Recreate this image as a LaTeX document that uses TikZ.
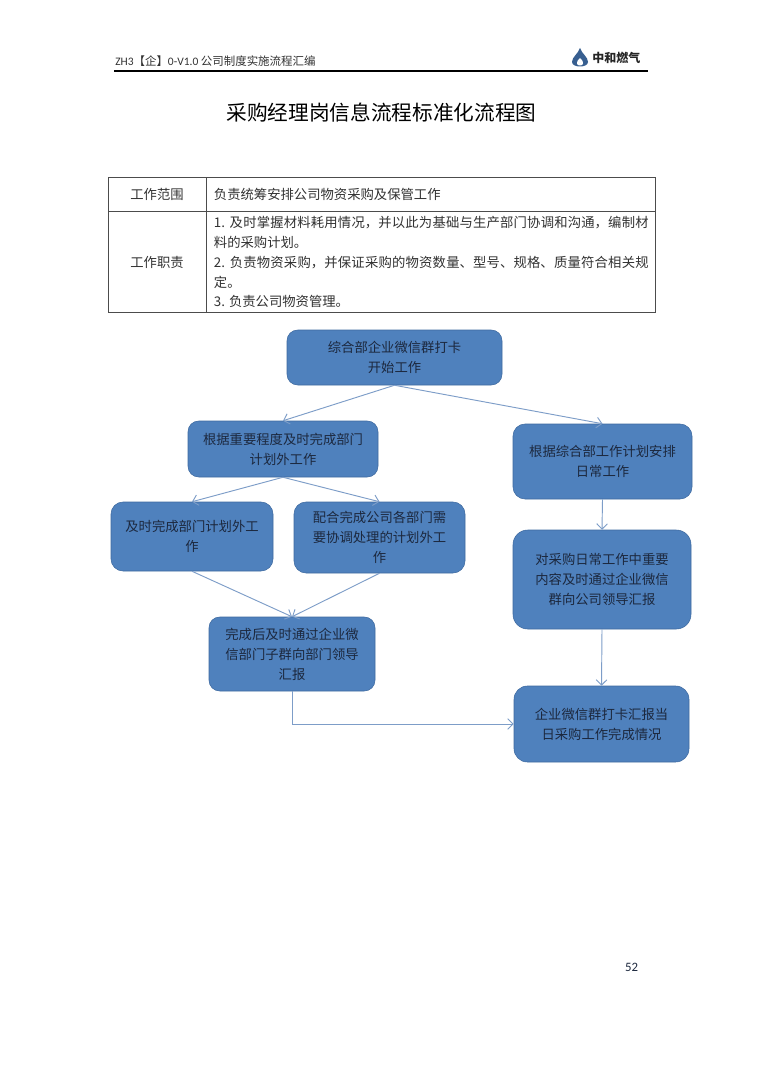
\documentclass[tikz,border=0pt]{standalone}
\usepackage{fontspec}
\usepackage{xcolor}
\usetikzlibrary{arrows.meta, positioning}
\setmainfont{Noto Sans CJK SC}
\newfontfamily\latinfont{Carlito}
\XeTeXlinebreaklocale "zh"
\XeTeXlinebreakskip=0pt plus 1pt
\definecolor{cBox}{RGB}{79,129,189}
\definecolor{cBoxLine}{RGB}{62,106,160}
\definecolor{cLink}{RGB}{125,157,200}
\definecolor{cBoxText}{RGB}{28,40,62}
\definecolor{cTable}{RGB}{50,50,50}
\tikzset{
	flowbox/.style={rectangle, rounded corners=8pt, draw=cBoxLine, fill=cBox, text=cBoxText, align=center, inner sep=0pt, font=\fontsize{10}{15}\selectfont},
	flowarrow/.style={-{Straight Barb[length=1.4mm, width=2.8mm]}, draw=cLink, line width=0.7pt},
	% table helpers
	headcell/.style={draw=black!70, line width=0.6pt, minimum width=73.5pt, text=cTable, align=center, inner sep=0pt, font=\fontsize{10}{15}\selectfont},
	bodycell/.style={draw=black!70, line width=0.6pt, minimum width=336.75pt, text width=326pt, text=cTable, align=justify, inner sep=0pt, font=\fontsize{10}{14.85}\selectfont},
}
\begin{document}
\begin{tikzpicture}[x=0.75pt, y=-0.75pt, node distance=0pt]
	\useasboundingbox (0,0) rectangle (764,1080);
	\fill[white] (0,0) rectangle (764,1080);
	% page head
	\node[anchor=base west, inner sep=0pt, text=cTable, font=\fontsize{8.6}{10}\selectfont] (headtext) at (115,66) {{\latinfont ZH3}【企】{\latinfont 0-V1.0} 公司制度实施流程汇编};
	\coordinate (ruleleft) at (114,71);
	\coordinate (ruleright) at (648,71);
	\draw[line width=1pt, black] (ruleleft) -- (ruleright);
	\fill[cBoxLine!90!black] (580,48) .. controls (582,54) and (588,57) .. (588,62) .. controls (588,68) and (572,68) .. (572,62) .. controls (572,57) and (578,54) .. (580,48) -- cycle;
	\fill[white] (580,58) .. controls (582,60) and (584,62) .. (583,64) .. controls (582,66) and (578,66) .. (577,64) .. controls (576,62) and (578,60) .. (580,58) -- cycle;
	\node[anchor=west, inner sep=0pt, text=black!85, font=\fontsize{9}{10}\selectfont\bfseries] (logotext) at (592,58) {中和燃气};
	\node[inner sep=0pt, font=\fontsize{15.5}{20}\selectfont] (title) at (381.5,113) {采购经理岗信息流程标准化流程图};
	% table
	\node[headcell, minimum height=25.5pt] (scopehead) at (157,194) {工作范围};
	\node[bodycell, minimum height=25.5pt, right=0pt of scopehead] (scopebody) {负责统筹安排公司物资采购及保管工作};
	\node[headcell, minimum height=75.75pt, below=0pt of scopehead] (dutyhead) {工作职责};
	\node[bodycell, minimum height=75.75pt, right=0pt of dutyhead] (dutybody) {1. 及时掌握材料耗用情况，并以此为基础与生产部门协调和沟通，编制材料的采购计划。\\2. 负责物资采购，并保证采购的物资数量、型号、规格、质量符合相关规定。\\3. 负责公司物资管理。};
	% flow boxes
	\node[flowbox, minimum width=161.25pt, minimum height=41.25pt] (start) at (394.5,357.5) {综合部企业微信群打卡\\开始工作};
	\node[flowbox, minimum width=142.5pt, minimum height=42pt] (outplan) at (283,449) {根据重要程度及时完成部门\\计划外工作};
	\node[flowbox, rounded corners=9pt, minimum width=134.25pt, minimum height=56.25pt] (daily) at (602.5,461.5) {根据综合部工作计划安排\\日常工作};
	\node[flowbox, rounded corners=9pt, minimum width=121.5pt, minimum height=51.75pt] (deptjob) at (192,536.5) {及时完成部门计划外工\\作};
	\node[flowbox, rounded corners=9pt, minimum width=128.25pt, minimum height=53.25pt] (cojob) at (379.5,537.5) {配合完成公司各部门需\\要协调处理的计划外工\\作};
	\node[flowbox, minimum width=124.5pt, minimum height=55.5pt] (deptreport) at (292,654) {完成后及时通过企业微\\信部门子群向部门领导\\汇报};
	\node[flowbox, rounded corners=11pt, minimum width=133.5pt, minimum height=74.25pt] (leadreport) at (602,579.5) {对采购日常工作中重要\\内容及时通过企业微信\\群向公司领导汇报};
	\node[flowbox, rounded corners=10pt, minimum width=131.25pt, minimum height=57pt] (finish) at (601.5,724) {企业微信群打卡汇报当\\日采购工作完成情况};
	% links
	\draw[flowarrow] (start.south) -- (outplan.north);
	\draw[flowarrow] (start.south) -- (daily.north);
	\draw[flowarrow] (outplan.south) -- (deptjob.north);
	\draw[flowarrow] (outplan.south) -- (cojob.north);
	\draw[flowarrow] (deptjob.south) -- (deptreport.north);
	\draw[flowarrow] (cojob.south) -- (deptreport.north);
	\draw[flowarrow] (daily.south) -- (leadreport.north);
	\draw[flowarrow] (leadreport.south) -- (finish.north);
	\draw[flowarrow] (deptreport.south) |- (finish.west);
	% page number
	\node[inner sep=0pt, text=cBoxText, font=\latinfont\fontsize{9.6}{11}\selectfont] (pagenum) at (631.5,967.5) {52};
\end{tikzpicture}
\end{document}
